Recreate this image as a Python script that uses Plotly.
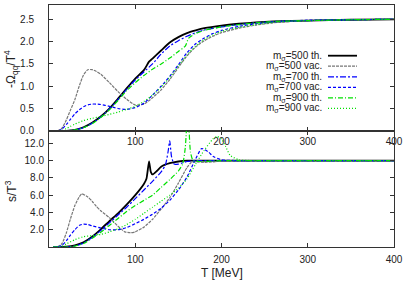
import plotly.graph_objects as go

# ---------------- data ----------------
labels = ["m<sub>σ</sub>=500 th.", "m<sub>σ</sub>=500 vac.", "m<sub>σ</sub>=700 th.",
          "m<sub>σ</sub>=700 vac.", "m<sub>σ</sub>=900 th.", "m<sub>σ</sub>=900 vac."]

x_ticks = [100, 200, 300, 400]
y1_ticks = [0.0, 0.5, 1.0, 1.5, 2.0, 2.5]
y2_ticks = [2.0, 4.0, 6.0, 8.0, 10.0, 12.0]

# top panel: -Omega_qq / T^4
T_500th_top = [5, 20, 30, 40, 50, 60, 70, 80, 90, 100, 110, 116, 120, 130, 140, 150, 160, 170, 180, 200, 220, 240, 260, 300, 350, 400]
om_500th = [0, 0, 0.02, 0.08, 0.18, 0.32, 0.5, 0.72, 0.95, 1.17, 1.36, 1.55, 1.62, 1.8, 1.98, 2.1, 2.19, 2.25, 2.3, 2.36, 2.4, 2.43, 2.45, 2.47, 2.49, 2.5]

T_500vac_top = [5, 10, 15, 20, 25, 30, 35, 40, 45, 50, 55, 60, 70, 80, 90, 100, 110, 120, 130, 140, 150, 160, 170, 180, 190, 200, 220, 240, 260, 280, 300, 350, 400]
om_500vac = [0, 0, 0.06, 0.24, 0.47, 0.7, 1.0, 1.25, 1.37, 1.37, 1.33, 1.27, 1.08, 0.88, 0.71, 0.58, 0.6, 0.74, 0.92, 1.15, 1.42, 1.68, 1.88, 2.02, 2.12, 2.2, 2.3, 2.37, 2.42, 2.45, 2.47, 2.49, 2.5]

T_700th_top = [5, 20, 30, 40, 50, 60, 70, 80, 90, 100, 110, 120, 130, 140, 150, 160, 170, 180, 200, 220, 240, 260, 300, 350, 400]
om_700th = [0, 0, 0.02, 0.07, 0.17, 0.31, 0.49, 0.7, 0.93, 1.14, 1.32, 1.5, 1.72, 1.9, 2.02, 2.12, 2.2, 2.26, 2.33, 2.38, 2.42, 2.45, 2.47, 2.49, 2.5]

T_700vac_top = [5, 10, 15, 20, 25, 30, 35, 40, 45, 50, 55, 60, 70, 80, 90, 100, 110, 120, 130, 140, 150, 160, 170, 180, 190, 200, 220, 240, 260, 280, 300, 350, 400]
om_700vac = [0, 0, 0.04, 0.14, 0.26, 0.38, 0.47, 0.54, 0.58, 0.6, 0.6, 0.59, 0.55, 0.5, 0.48, 0.52, 0.62, 0.8, 1.0, 1.22, 1.48, 1.75, 1.95, 2.08, 2.18, 2.25, 2.34, 2.4, 2.44, 2.46, 2.48, 2.49, 2.5]

T_900th_top = [5, 20, 30, 40, 50, 60, 70, 80, 90, 100, 110, 120, 130, 140, 150, 158, 162, 170, 180, 200, 220, 240, 260, 300, 350, 400]
om_900th = [0, 0, 0.02, 0.07, 0.16, 0.3, 0.47, 0.68, 0.9, 1.08, 1.24, 1.38, 1.5, 1.63, 1.78, 1.9, 2.08, 2.18, 2.25, 2.33, 2.38, 2.42, 2.45, 2.47, 2.49, 2.5]

T_900vac_top = [5, 10, 15, 20, 25, 30, 40, 50, 60, 70, 80, 90, 100, 110, 120, 130, 140, 150, 160, 170, 180, 190, 200, 220, 240, 260, 280, 300, 350, 400]
om_900vac = [0, 0, 0.01, 0.05, 0.1, 0.15, 0.23, 0.28, 0.32, 0.37, 0.42, 0.48, 0.55, 0.66, 0.8, 0.98, 1.2, 1.45, 1.7, 1.9, 2.05, 2.15, 2.23, 2.32, 2.38, 2.43, 2.46, 2.47, 2.49, 2.5]

# bottom panel: s / T^3
T_500th_bot = [5, 20, 30, 40, 50, 60, 70, 80, 90, 100, 110, 113, 116, 118, 120, 125, 130, 140, 150, 160, 200, 300, 400]
s_500th = [0, 0.05, 0.2, 0.55, 1.2, 2.05, 3.0, 3.9, 4.9, 6.0, 7.3, 7.9, 9.9, 8.7, 8.4, 8.8, 9.3, 9.7, 9.9, 10.0, 10.0, 10.0, 10.0]

T_500vac_bot = [5, 10, 15, 20, 25, 30, 35, 38, 45, 50, 55, 60, 70, 80, 88, 95, 100, 110, 120, 130, 140, 150, 160, 165, 170, 180, 190, 200, 220, 300, 400]
s_500vac = [0, 0.05, 0.4, 1.6, 3.3, 4.8, 5.8, 6.15, 5.8, 5.3, 4.7, 4.2, 3.4, 2.4, 1.75, 1.65, 1.75, 2.3, 3.2, 4.4, 5.7, 7.4, 9.2, 9.8, 9.85, 9.8, 9.85, 9.95, 10.0, 10.0, 10.0]

T_700th_bot = [5, 20, 30, 40, 50, 60, 70, 80, 90, 100, 110, 120, 130, 135, 138, 140, 142, 145, 150, 160, 170, 200, 300, 400]
s_700th = [0, 0, 0.1, 0.45, 1.1, 1.9, 2.8, 3.7, 4.6, 5.6, 6.6, 7.6, 8.7, 9.5, 11.0, 12.3, 10.5, 9.6, 9.6, 9.9, 10.0, 10.0, 10.0, 10.0]

T_700vac_bot = [5, 10, 15, 20, 25, 30, 35, 40, 45, 50, 60, 70, 80, 90, 100, 110, 120, 130, 140, 150, 160, 170, 177, 185, 190, 200, 220, 300, 400]
s_700vac = [0, 0, 0.2, 0.7, 1.4, 2.0, 2.5, 2.65, 2.6, 2.45, 2.2, 2.0, 2.0, 2.25, 2.7, 3.2, 3.8, 4.5, 5.4, 6.6, 8.1, 10.2, 11.4, 11.0, 10.5, 10.1, 10.0, 10.0, 10.0]

T_900th_bot = [5, 20, 30, 40, 50, 60, 70, 80, 90, 100, 110, 120, 130, 140, 150, 155, 158, 161, 164, 167, 175, 200, 300, 400]
s_900th = [0, 0, 0.1, 0.4, 1.0, 1.7, 2.5, 3.3, 4.1, 4.8, 5.4, 6.0, 6.9, 7.8, 8.8, 9.6, 11.5, 16.0, 11.0, 10.0, 9.9, 10.0, 10.0, 10.0]

T_900vac_bot = [5, 10, 15, 20, 30, 40, 50, 60, 70, 80, 90, 100, 110, 120, 130, 140, 150, 160, 170, 180, 190, 195, 200, 205, 210, 220, 240, 300, 400]
s_900vac = [0, 0, 0.1, 0.35, 0.85, 1.2, 1.3, 1.45, 1.75, 2.1, 2.6, 3.2, 3.9, 4.6, 5.3, 6.0, 6.8, 7.9, 9.6, 11.2, 12.5, 12.8, 12.5, 11.6, 10.6, 10.1, 10.0, 10.0, 10.0]

# ---------------- styles ----------------
styles = [
    dict(color="black", width=1.8, dash="solid"),
    dict(color="#777777", width=1.2, dash="3px,1px"),
    dict(color="#0000ff", width=1.2, dash="6px,2px,2px,2px"),
    dict(color="#0000ff", width=1.2, dash="3px,2px"),
    dict(color="#00e000", width=1.2, dash="5px,2px,1px,2px"),
    dict(color="#00e000", width=1.2, dash="1px,2px"),
]

top_series = [(T_500th_top, om_500th), (T_500vac_top, om_500vac), (T_700th_top, om_700th),
              (T_700vac_top, om_700vac), (T_900th_top, om_900th), (T_900vac_top, om_900vac)]
bot_series = [(T_500th_bot, s_500th), (T_500vac_bot, s_500vac), (T_700th_bot, s_700th),
              (T_700vac_bot, s_700vac), (T_900th_bot, s_900th), (T_900vac_bot, s_900vac)]

W, H = 415, 291
ML, MR, MT, MB = 49, 21, 5, 44
PW, PH = W - ML - MR, H - MT - MB

def px2x(px):
    return (px - ML) / PW

def py2y(py):
    return (H - MB - py) / PH

fig = go.Figure()
for i, (t, v) in enumerate(top_series):
    fig.add_trace(go.Scatter(x=t, y=v, mode="lines", line=dict(shape="spline", smoothing=0.6, **styles[i]),
                             xaxis="x", yaxis="y", showlegend=False))
for i, (t, v) in enumerate(bot_series):
    fig.add_trace(go.Scatter(x=t, y=v, mode="lines", line=dict(shape="spline", smoothing=0.5, **styles[i]),
                             xaxis="x2", yaxis="y2", showlegend=False))

FAM = "Liberation Sans, Arial, sans-serif"
font = dict(family=FAM, size=10, color="#222222")
tfont = dict(family=FAM, size=12, color="#222222")
lfont = dict(family=FAM, size=10, color="#222222")
axcommon = dict(showline=True, linecolor="#333333", linewidth=1, mirror="ticks", ticks="inside",
                ticklen=4, tickcolor="#333333", showgrid=False, zeroline=False, tickfont=font)

split = 0.48
fig.update_layout(
    width=W, height=H, margin=dict(l=ML, r=MR, t=MT, b=MB),
    plot_bgcolor="white", paper_bgcolor="white", font=font,
    xaxis=dict(domain=[0, 1], range=[0, 400], anchor="y", tickvals=x_ticks, ticktext=[str(v) for v in x_ticks],
               ticklabelstandoff=1, **axcommon),
    yaxis=dict(domain=[split, 1], range=[0, 2.82], anchor="x", tickvals=y1_ticks,
               ticktext=[f"{v:.1f}" for v in y1_ticks], ticklabelstandoff=12, **axcommon),
    xaxis2=dict(domain=[0, 1], range=[0, 400], anchor="y2", tickvals=x_ticks, ticktext=[str(v) for v in x_ticks],
                ticklabelstandoff=3, **axcommon),
    yaxis2=dict(domain=[0, split], range=[0, 13.45], anchor="x2", tickvals=y2_ticks,
                ticktext=[f"{v:.1f}" for v in y2_ticks], ticklabelstandoff=2, **axcommon),
)

# axis titles
fig.add_annotation(text="-Ω<sub>qq</sub>/T<sup>4</sup>", xref="paper", yref="paper", x=px2x(11), y=py2y(69),
                   textangle=-90, showarrow=False, font=tfont, xanchor="center", yanchor="middle")
fig.add_annotation(text="s/T<sup>3</sup>", xref="paper", yref="paper", x=px2x(11), y=py2y(191),
                   textangle=-90, showarrow=False, font=tfont, xanchor="center", yanchor="middle")
fig.add_annotation(text="T [MeV]", xref="paper", yref="paper", x=px2x(222), y=py2y(273),
                   showarrow=False, font=tfont, xanchor="center", yanchor="middle")

# legend (gnuplot style: right-aligned text, sample on the right)
leg_y = [55.7, 66.2, 76.8, 87.3, 97.8, 108.3]
for i, lab in enumerate(labels):
    fig.add_annotation(text=lab, xref="paper", yref="paper", x=px2x(323), y=py2y(leg_y[i]),
                       showarrow=False, font=lfont, xanchor="right", yanchor="middle",
                       height=10, valign="middle", borderpad=0)
    fig.add_shape(type="line", xref="paper", yref="paper", x0=px2x(328), x1=px2x(357),
                  y0=py2y(leg_y[i]), y1=py2y(leg_y[i]), line=styles[i])

fig.write_html("out.html", config={"displayModeBar": False},
               post_script="document.body.style.margin='0px';document.body.style.overflow='hidden';")
